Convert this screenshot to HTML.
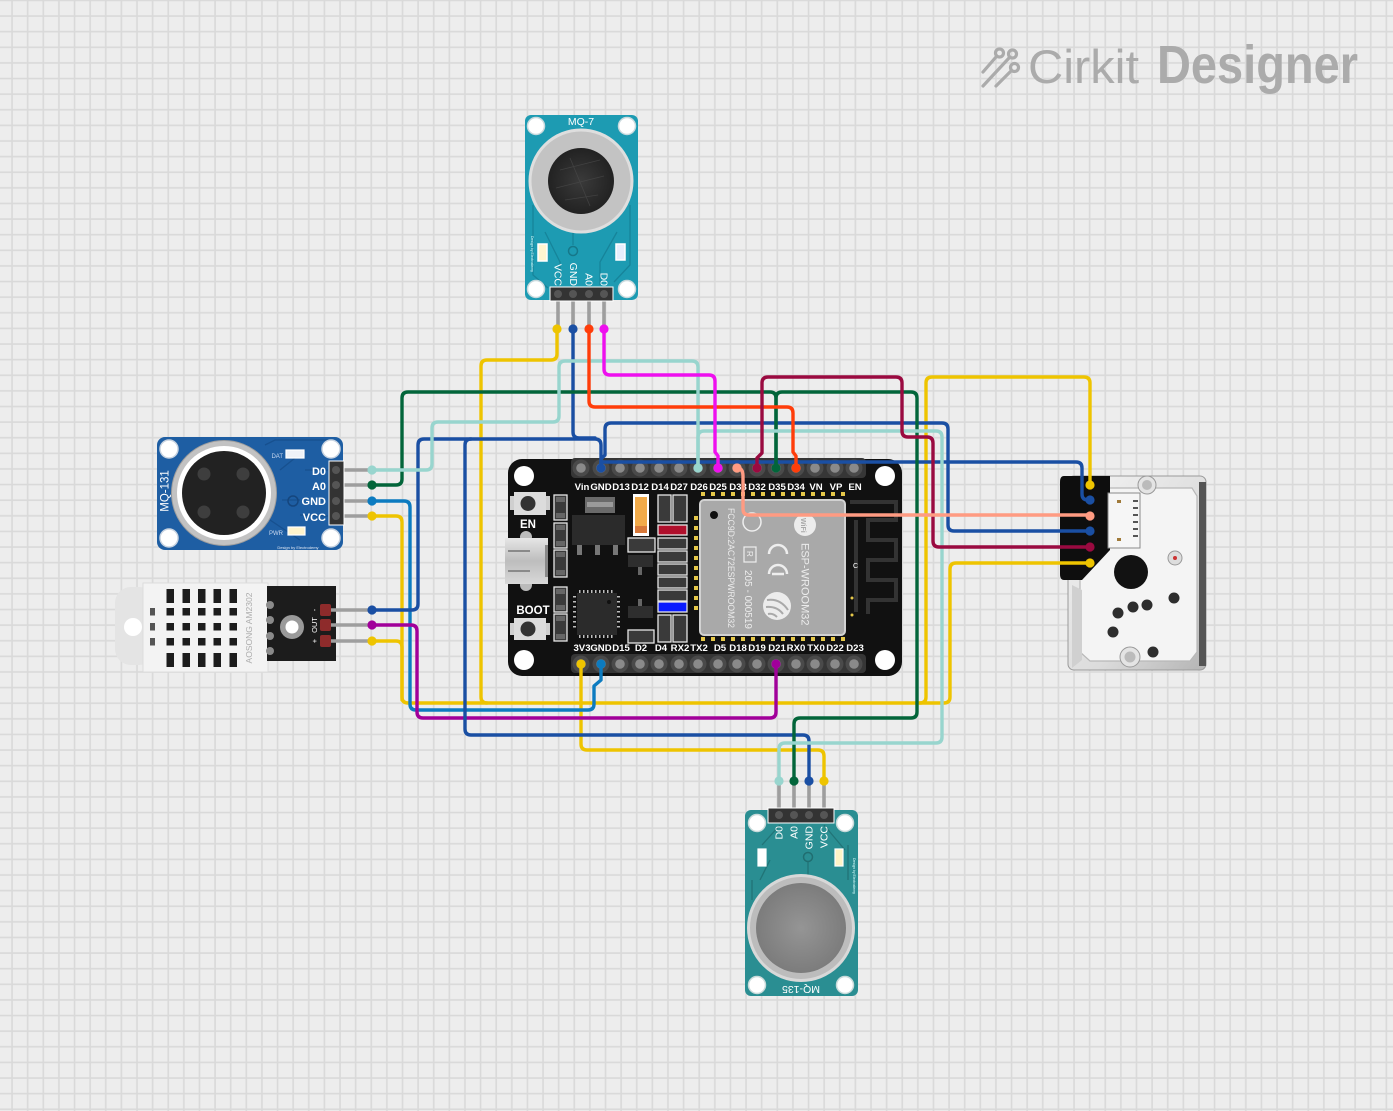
<!DOCTYPE html>
<html><head><meta charset="utf-8"><style>
html,body{margin:0;padding:0;background:#ededed;overflow:hidden;}
svg{display:block;}
text{font-family:"Liberation Sans",sans-serif;}
</style></head><body>
<svg width="1393" height="1111" viewBox="0 0 1393 1111" xmlns="http://www.w3.org/2000/svg">
<defs>
<pattern id="grid" x="4.19" y="8.19" width="15.617" height="15.617" patternUnits="userSpaceOnUse">
<rect x="7.06" y="0" width="1.6" height="15.617" fill="#d9d9d9"/>
<rect x="0" y="7.06" width="15.617" height="1.6" fill="#d9d9d9"/>
</pattern>
<linearGradient id="metal" x1="0" y1="0" x2="1" y2="1">
<stop offset="0" stop-color="#f4f4f4"/><stop offset="0.6" stop-color="#dcdcdc"/><stop offset="1" stop-color="#b4b4b4"/></linearGradient>
<linearGradient id="usb" x1="0" y1="0" x2="0" y2="1">
<stop offset="0" stop-color="#e6e6e6"/><stop offset="0.5" stop-color="#bdbdbd"/><stop offset="1" stop-color="#d8d8d8"/></linearGradient>
<radialGradient id="mq7core" cx="0.5" cy="0.5" r="0.5">
<stop offset="0" stop-color="#3a3a3a"/><stop offset="1" stop-color="#222"/></radialGradient>
<radialGradient id="mesh" cx="0.5" cy="0.5" r="0.5">
<stop offset="0" stop-color="#959595"/><stop offset="1" stop-color="#7c7c7c"/></radialGradient>
</defs>
<rect width="1393" height="1111" fill="#ededed"/>
<rect width="1393" height="1111" fill="url(#grid)"/>

<!-- Logo -->
<g fill="none" stroke="#ababab" stroke-width="3.2" stroke-linecap="round">
<line x1="983" y1="72" x2="996" y2="57"/>
<circle cx="999.5" cy="53" r="4"/>
<line x1="983" y1="86" x2="1009" y2="58"/>
<circle cx="1012.5" cy="54" r="4"/>
<line x1="996" y1="86" x2="1011" y2="71"/>
<circle cx="1014.5" cy="67.5" r="4"/>
</g>
<text x="1028" y="83" font-size="47" fill="#ababab" textLength="111" lengthAdjust="spacingAndGlyphs">Cirkit</text>
<text x="1157" y="83" font-size="54" font-weight="bold" fill="#ababab" textLength="201" lengthAdjust="spacingAndGlyphs">Designer</text>

<!-- MQ-7 -->
<g>
<rect x="525" y="115" width="113" height="185" rx="6" fill="#1d9bb2"/>
<g stroke="#16849a" stroke-width="1.3" fill="none">
<path d="M533,205 V275 L548,288"/>
<path d="M630,205 V265 L614,282"/>
<path d="M573,228 V245"/>
<path d="M545,232 L560,262 V285"/>
<path d="M617,232 L600,262 V285"/>
</g>
<g fill="#fff" stroke="#c9d9dd" stroke-width="1.5">
<circle cx="536" cy="126" r="8.5"/><circle cx="627" cy="126" r="8.5"/>
<circle cx="536" cy="289" r="8.5"/><circle cx="627" cy="289" r="8.5"/>
</g>
<circle cx="581" cy="181" r="51" fill="#c3c3c3" stroke="#dedede" stroke-width="3"/>
<circle cx="581" cy="181" r="33" fill="url(#mq7core)"/>
<g stroke="#4a4a4a" stroke-width="0.8" opacity="0.7">
<line x1="560" y1="170" x2="600" y2="160"/><line x1="556" y1="188" x2="604" y2="176"/>
<line x1="565" y1="200" x2="598" y2="195"/><line x1="570" y1="158" x2="590" y2="206"/>
</g>
<text x="581" y="125" font-family="Liberation Mono,monospace" font-size="10.5" fill="#fff" text-anchor="middle">MQ-7</text>
<circle cx="573" cy="251" r="4.5" fill="none" stroke="#16788a" stroke-width="1.5"/>
<rect x="538" y="244" width="9" height="17" fill="#fff6d0" stroke="#fff" stroke-width="1.5"/>
<rect x="616" y="244" width="9" height="16" fill="#e6eefc" stroke="#fff" stroke-width="1.5"/>
<text transform="translate(531,236) rotate(90)" font-size="3.5" fill="#dff">Design by Electrodemy</text>
<g font-family="Liberation Mono,monospace" font-size="10.5" fill="#fff" text-anchor="end">
<text transform="translate(554.5,286) rotate(90)">VCC</text>
<text transform="translate(570,286) rotate(90)">GND</text>
<text transform="translate(585.5,286) rotate(90)">A0</text>
<text transform="translate(600.5,286) rotate(90)">D0</text>
</g>
<g stroke="#9e9e9e" stroke-width="3.6">
<line x1="558" y1="292" x2="558" y2="329"/><line x1="573" y1="292" x2="573" y2="329"/>
<line x1="589" y1="292" x2="589" y2="329"/><line x1="604" y1="292" x2="604" y2="329"/>
</g>
<rect x="550" y="287" width="63" height="14" fill="#333" stroke="#fff" stroke-width="1"/>
<g fill="#555"><circle cx="558" cy="294" r="4"/><circle cx="573" cy="294" r="4"/><circle cx="589" cy="294" r="4"/><circle cx="604" cy="294" r="4"/></g>
</g>

<!-- MQ-131 -->
<g>
<rect x="157" y="437" width="186" height="113" rx="8" fill="#1e5ea3"/>
<g stroke="#17508f" stroke-width="1.3" fill="none">
<path d="M265,445 L275,440 H330"/><path d="M280,470 L305,450"/><path d="M282,500 H300"/>
<path d="M270,520 L300,540"/><path d="M305,470 H328"/><path d="M300,515 L328,516"/>
</g>
<g fill="#fff" stroke="#c8d3e0" stroke-width="1.5">
<circle cx="169" cy="449" r="9"/><circle cx="331" cy="449" r="9"/>
<circle cx="169" cy="538" r="9"/><circle cx="331" cy="538" r="9"/>
</g>
<circle cx="224" cy="493" r="52.5" fill="#c2c2c2" stroke="#9d9d9d" stroke-width="1"/>
<circle cx="224" cy="493" r="47" fill="#fff"/>
<circle cx="224" cy="493" r="42" fill="#222"/>
<g fill="#3e3e3e"><circle cx="204" cy="474" r="6.5"/><circle cx="243" cy="474" r="6.5"/><circle cx="204" cy="512" r="6.5"/><circle cx="243" cy="512" r="6.5"/></g>
<circle cx="293" cy="501" r="5" fill="none" stroke="#15467e" stroke-width="1.5"/>
<text transform="translate(168.5,491) rotate(-90)" font-family="Liberation Mono,monospace" font-size="11.5" fill="#fff" text-anchor="middle">MQ-131</text>
<text x="283" y="458" font-size="6" fill="#c8d8f0" text-anchor="end">DAT</text>
<rect x="286" y="450" width="18" height="8" fill="#eef2f8" stroke="#fff" stroke-width="1.2"/>
<text x="283" y="535" font-size="6" fill="#c8d8f0" text-anchor="end">PWR</text>
<rect x="288" y="527" width="17" height="8" fill="#fff4cc" stroke="#fff" stroke-width="1.2"/>
<text x="298" y="549" font-size="4" fill="#e0e8f5" text-anchor="middle">Design by Electrodemy</text>
<g font-size="11" font-weight="bold" fill="#fff" text-anchor="end">
<text x="326" y="475">D0</text><text x="326" y="490">A0</text>
<text x="326" y="505">GND</text><text x="326" y="521">VCC</text>
</g>
<g stroke="#9e9e9e" stroke-width="3.6">
<line x1="336" y1="470" x2="372" y2="470"/><line x1="336" y1="485" x2="372" y2="485"/>
<line x1="336" y1="501" x2="372" y2="501"/><line x1="336" y1="516" x2="372" y2="516"/>
</g>
<rect x="329" y="461" width="15" height="64" fill="#333" stroke="#fff" stroke-width="1"/>
<g fill="#555"><circle cx="336" cy="470" r="4"/><circle cx="336" cy="485" r="4"/><circle cx="336" cy="501" r="4"/><circle cx="336" cy="516" r="4"/></g>
</g>

<!-- DHT22 -->
<g>
<rect x="115" y="587" width="40" height="78" rx="16" fill="#e4e4e4"/>
<rect x="143" y="583" width="125" height="89" fill="#f3f3f3" stroke="#dcdcdc" stroke-width="1"/>
<circle cx="133" cy="627" r="9" fill="#fff"/>
<g fill="#1c1c1c">
<rect x="166.5" y="589" width="7.5" height="14"/><rect x="182.5" y="589" width="7.5" height="14"/><rect x="198" y="589" width="7.5" height="14"/><rect x="213.5" y="589" width="7.5" height="14"/><rect x="229.5" y="589" width="7.5" height="14"/>
<rect x="166.5" y="608" width="7.5" height="7.5"/><rect x="182.5" y="608" width="7.5" height="7.5"/><rect x="198" y="608" width="7.5" height="7.5"/><rect x="213.5" y="608" width="7.5" height="7.5"/><rect x="229.5" y="608" width="7.5" height="7.5"/>
<rect x="166.5" y="623" width="7.5" height="7.5"/><rect x="182.5" y="623" width="7.5" height="7.5"/><rect x="198" y="623" width="7.5" height="7.5"/><rect x="213.5" y="623" width="7.5" height="7.5"/><rect x="229.5" y="623" width="7.5" height="7.5"/>
<rect x="166.5" y="638" width="7.5" height="7.5"/><rect x="182.5" y="638" width="7.5" height="7.5"/><rect x="198" y="638" width="7.5" height="7.5"/><rect x="213.5" y="638" width="7.5" height="7.5"/><rect x="229.5" y="638" width="7.5" height="7.5"/>
<rect x="166.5" y="653" width="7.5" height="14"/><rect x="182.5" y="653" width="7.5" height="14"/><rect x="198" y="653" width="7.5" height="14"/><rect x="213.5" y="653" width="7.5" height="14"/><rect x="229.5" y="653" width="7.5" height="14"/>
</g>
<g fill="#555"><rect x="150" y="608" width="5" height="7.5"/><rect x="150" y="623" width="5" height="7.5"/><rect x="150" y="638" width="5" height="7.5"/></g>
<text transform="translate(252,628) rotate(-90)" font-size="8.5" fill="#adadad" text-anchor="middle">AOSONG AM2302</text>
<rect x="267" y="586" width="69" height="75" fill="#1c1c1c"/>
<g fill="#8a8a8a"><circle cx="270" cy="605" r="4"/><circle cx="270" cy="620" r="4"/><circle cx="270" cy="636" r="4"/><circle cx="270" cy="651" r="4"/></g>
<circle cx="292" cy="627" r="12" fill="#9a9a9a"/>
<circle cx="292" cy="627" r="6.5" fill="#fff"/>
<g stroke="#9e9e9e" stroke-width="3.6">
<line x1="326" y1="610" x2="372" y2="610"/><line x1="326" y1="625" x2="372" y2="625"/><line x1="326" y1="641" x2="372" y2="641"/>
</g>
<g fill="#8e2b2b"><rect x="320" y="604" width="11" height="12" rx="2"/><rect x="320" y="619" width="11" height="12" rx="2"/><rect x="320" y="635" width="11" height="12" rx="2"/></g>
<g font-size="7.5" fill="#fff" text-anchor="middle">
<text transform="translate(317,610) rotate(-90)">-</text>
<text transform="translate(317,625) rotate(-90)">OUT</text>
<text transform="translate(317,641) rotate(-90)">+</text>
</g>
</g>

<!-- ESP32 board -->
<g>
<rect x="508" y="459" width="394" height="217" rx="14" fill="#111"/>
<g fill="#fff"><circle cx="524" cy="476" r="10"/><circle cx="885" cy="476" r="10"/><circle cx="524" cy="660" r="10"/><circle cx="885" cy="660" r="10"/></g>
<!-- headers -->
<rect x="571" y="458" width="295" height="20" rx="4" fill="#363636"/>
<rect x="571" y="654" width="295" height="19" rx="4" fill="#363636"/>
<g fill="#4a4a4a">
<circle cx="581" cy="468" r="8.5"/><circle cx="601" cy="468" r="8.5"/><circle cx="620" cy="468" r="8.5"/><circle cx="640" cy="468" r="8.5"/><circle cx="659" cy="468" r="8.5"/><circle cx="679" cy="468" r="8.5"/><circle cx="698" cy="468" r="8.5"/><circle cx="718" cy="468" r="8.5"/><circle cx="737" cy="468" r="8.5"/><circle cx="757" cy="468" r="8.5"/><circle cx="776" cy="468" r="8.5"/><circle cx="796" cy="468" r="8.5"/><circle cx="815" cy="468" r="8.5"/><circle cx="835" cy="468" r="8.5"/><circle cx="854" cy="468" r="8.5"/>
<circle cx="581" cy="664" r="8.5"/><circle cx="601" cy="664" r="8.5"/><circle cx="620" cy="664" r="8.5"/><circle cx="640" cy="664" r="8.5"/><circle cx="659" cy="664" r="8.5"/><circle cx="679" cy="664" r="8.5"/><circle cx="698" cy="664" r="8.5"/><circle cx="718" cy="664" r="8.5"/><circle cx="737" cy="664" r="8.5"/><circle cx="757" cy="664" r="8.5"/><circle cx="776" cy="664" r="8.5"/><circle cx="796" cy="664" r="8.5"/><circle cx="815" cy="664" r="8.5"/><circle cx="835" cy="664" r="8.5"/><circle cx="854" cy="664" r="8.5"/>
</g>
<g fill="#8a8a8a">
<circle cx="581" cy="468" r="4.8"/><circle cx="601" cy="468" r="4.8"/><circle cx="620" cy="468" r="4.8"/><circle cx="640" cy="468" r="4.8"/><circle cx="659" cy="468" r="4.8"/><circle cx="679" cy="468" r="4.8"/><circle cx="698" cy="468" r="4.8"/><circle cx="718" cy="468" r="4.8"/><circle cx="737" cy="468" r="4.8"/><circle cx="757" cy="468" r="4.8"/><circle cx="776" cy="468" r="4.8"/><circle cx="796" cy="468" r="4.8"/><circle cx="815" cy="468" r="4.8"/><circle cx="835" cy="468" r="4.8"/><circle cx="854" cy="468" r="4.8"/>
<circle cx="581" cy="664" r="4.8"/><circle cx="601" cy="664" r="4.8"/><circle cx="620" cy="664" r="4.8"/><circle cx="640" cy="664" r="4.8"/><circle cx="659" cy="664" r="4.8"/><circle cx="679" cy="664" r="4.8"/><circle cx="698" cy="664" r="4.8"/><circle cx="718" cy="664" r="4.8"/><circle cx="737" cy="664" r="4.8"/><circle cx="757" cy="664" r="4.8"/><circle cx="776" cy="664" r="4.8"/><circle cx="796" cy="664" r="4.8"/><circle cx="815" cy="664" r="4.8"/><circle cx="835" cy="664" r="4.8"/><circle cx="854" cy="664" r="4.8"/>
</g>
<g font-size="9.6" font-weight="bold" fill="#fff" text-anchor="middle">
<text x="582" y="490">Vin</text><text x="601" y="490">GND</text><text x="621" y="490">D13</text><text x="640" y="490">D12</text><text x="660" y="490">D14</text><text x="679" y="490">D27</text><text x="699" y="490">D26</text><text x="718" y="490">D25</text><text x="738" y="490">D33</text><text x="757" y="490">D32</text><text x="777" y="490">D35</text><text x="796" y="490">D34</text><text x="816" y="490">VN</text><text x="836" y="490">VP</text><text x="855" y="490">EN</text>
<text x="582" y="651">3V3</text><text x="601" y="651">GND</text><text x="621" y="651">D15</text><text x="641" y="651">D2</text><text x="661" y="651">D4</text><text x="680" y="651">RX2</text><text x="699" y="651">TX2</text><text x="720" y="651">D5</text><text x="738" y="651">D18</text><text x="757" y="651">D19</text><text x="777" y="651">D21</text><text x="796" y="651">RX0</text><text x="816" y="651">TX0</text><text x="835" y="651">D22</text><text x="855" y="651">D23</text>
</g>
<!-- EN button -->
<rect x="510" y="496" width="40" height="14" fill="#cfcfcf"/>
<rect x="514" y="492" width="32" height="23" fill="#dcdcdc"/>
<circle cx="528" cy="503.5" r="7.5" fill="#333"/>
<text x="528" y="528" font-size="11.5" font-weight="bold" fill="#fff" text-anchor="middle">EN</text>
<!-- USB -->
<circle cx="526" cy="537" r="6" fill="#bbb"/><circle cx="526" cy="585" r="6" fill="#bbb"/>
<rect x="505" y="538" width="43" height="46" fill="url(#usb)"/>
<line x1="508" y1="551" x2="530" y2="551" stroke="#8a8a8a" stroke-width="2"/>
<line x1="508" y1="571" x2="530" y2="571" stroke="#8a8a8a" stroke-width="2"/>
<rect x="545" y="545" width="3" height="32" fill="#888"/>
<!-- BOOT -->
<text x="533" y="614" font-size="11.5" font-weight="bold" fill="#fff" text-anchor="middle">BOOT</text>
<rect x="510" y="623" width="40" height="12" fill="#cfcfcf"/>
<rect x="514" y="618" width="32" height="22" fill="#dcdcdc"/>
<circle cx="528" cy="629" r="7.5" fill="#333"/>
<!-- SMD column 1 -->
<g fill="#3a3a3a" stroke="#e6e6e6" stroke-width="1.3">
<rect x="554" y="495" width="13" height="25"/><rect x="554" y="523" width="13" height="25"/><rect x="554" y="550" width="13" height="27"/>
<rect x="554" y="587" width="13" height="25"/><rect x="554" y="614" width="13" height="27"/>
</g>
<g fill="#666"><rect x="556" y="497" width="9" height="5"/><rect x="556" y="513" width="9" height="5"/><rect x="556" y="525" width="9" height="5"/><rect x="556" y="541" width="9" height="5"/><rect x="556" y="552" width="9" height="5"/><rect x="556" y="570" width="9" height="5"/><rect x="556" y="589" width="9" height="5"/><rect x="556" y="605" width="9" height="5"/><rect x="556" y="616" width="9" height="5"/><rect x="556" y="634" width="9" height="5"/></g>
<!-- regulator -->
<rect x="585" y="497" width="30" height="16" fill="#6a6a6a"/>
<rect x="587" y="502" width="26" height="5" fill="#9a9a9a"/>
<rect x="572" y="515" width="53" height="30" fill="#2b2b2b"/>
<g fill="#777"><rect x="577" y="545" width="5" height="10"/><rect x="595" y="545" width="5" height="10"/><rect x="613" y="545" width="5" height="10"/></g>
<!-- orange cap -->
<rect x="633" y="494" width="16" height="42" fill="#fff"/>
<rect x="635" y="497" width="12" height="29" fill="#f2ab4a"/>
<rect x="635" y="526" width="12" height="7" fill="#d8793a"/>
<g fill="#3a3a3a" stroke="#e6e6e6" stroke-width="1.3">
<rect x="628" y="538" width="27" height="14"/><rect x="628" y="630" width="26" height="13"/>
</g>
<rect x="628" y="555" width="25" height="12" fill="#2e2e2e"/><rect x="638" y="567" width="4" height="8" fill="#666"/>
<rect x="628" y="606" width="25" height="12" fill="#2e2e2e"/><rect x="638" y="599" width="4" height="7" fill="#666"/>
<!-- CH340 chip -->
<g fill="#bdbdbd">
<rect x="579" y="590" width="1.5" height="3"/><rect x="583" y="590" width="1.5" height="3"/><rect x="587" y="590" width="1.5" height="3"/><rect x="591" y="590" width="1.5" height="3"/><rect x="595" y="590" width="1.5" height="3"/><rect x="599" y="590" width="1.5" height="3"/><rect x="603" y="590" width="1.5" height="3"/><rect x="607" y="590" width="1.5" height="3"/><rect x="611" y="590" width="1.5" height="3"/>
<rect x="579" y="635" width="1.5" height="3"/><rect x="583" y="635" width="1.5" height="3"/><rect x="587" y="635" width="1.5" height="3"/><rect x="591" y="635" width="1.5" height="3"/><rect x="595" y="635" width="1.5" height="3"/><rect x="599" y="635" width="1.5" height="3"/><rect x="603" y="635" width="1.5" height="3"/><rect x="607" y="635" width="1.5" height="3"/><rect x="611" y="635" width="1.5" height="3"/>
<rect x="573" y="596" width="3" height="1.5"/><rect x="573" y="601" width="3" height="1.5"/><rect x="573" y="606" width="3" height="1.5"/><rect x="573" y="611" width="3" height="1.5"/><rect x="573" y="616" width="3" height="1.5"/><rect x="573" y="621" width="3" height="1.5"/><rect x="573" y="626" width="3" height="1.5"/>
<rect x="617" y="596" width="3" height="1.5"/><rect x="617" y="601" width="3" height="1.5"/><rect x="617" y="606" width="3" height="1.5"/><rect x="617" y="611" width="3" height="1.5"/><rect x="617" y="616" width="3" height="1.5"/><rect x="617" y="621" width="3" height="1.5"/><rect x="617" y="626" width="3" height="1.5"/>
</g>
<rect x="577" y="593" width="40" height="42" fill="#2b2b2b"/>
<circle cx="609" cy="602" r="2" fill="#111"/>
<!-- resistor column -->
<g fill="#3a3a3a" stroke="#e6e6e6" stroke-width="1.3">
<rect x="658" y="495" width="13" height="27"/><rect x="673" y="495" width="14" height="27"/>
<rect x="658" y="538" width="29" height="11"/><rect x="658" y="551" width="29" height="11"/><rect x="658" y="564" width="29" height="11"/><rect x="658" y="577" width="29" height="11"/><rect x="658" y="590" width="29" height="11"/>
<rect x="658" y="615" width="13" height="27"/><rect x="673" y="615" width="14" height="27"/>
</g>
<rect x="658" y="525" width="29" height="10" fill="#b0102c" stroke="#e6e6e6" stroke-width="1.3"/>
<rect x="658" y="602" width="29" height="10" fill="#0a1cff" stroke="#e6e6e6" stroke-width="1.3"/>
<!-- gold pads -->
<g fill="#e6c84a">
<rect x="701" y="492" width="4" height="4"/><rect x="711" y="492" width="4" height="4"/><rect x="721" y="492" width="4" height="4"/><rect x="731" y="492" width="4" height="4"/><rect x="741" y="492" width="4" height="4"/><rect x="751" y="492" width="4" height="4"/><rect x="761" y="492" width="4" height="4"/><rect x="771" y="492" width="4" height="4"/><rect x="781" y="492" width="4" height="4"/><rect x="791" y="492" width="4" height="4"/><rect x="801" y="492" width="4" height="4"/><rect x="811" y="492" width="4" height="4"/><rect x="821" y="492" width="4" height="4"/><rect x="831" y="492" width="4" height="4"/><rect x="841" y="492" width="4" height="4"/>
<rect x="701" y="637" width="4" height="4"/><rect x="711" y="637" width="4" height="4"/><rect x="721" y="637" width="4" height="4"/><rect x="731" y="637" width="4" height="4"/><rect x="741" y="637" width="4" height="4"/><rect x="751" y="637" width="4" height="4"/><rect x="761" y="637" width="4" height="4"/><rect x="771" y="637" width="4" height="4"/><rect x="781" y="637" width="4" height="4"/><rect x="791" y="637" width="4" height="4"/><rect x="801" y="637" width="4" height="4"/><rect x="811" y="637" width="4" height="4"/><rect x="821" y="637" width="4" height="4"/><rect x="831" y="637" width="4" height="4"/><rect x="841" y="637" width="4" height="4"/>
<rect x="694" y="516" width="4" height="4"/><rect x="694" y="526" width="4" height="4"/><rect x="694" y="536" width="4" height="4"/><rect x="694" y="546" width="4" height="4"/><rect x="694" y="556" width="4" height="4"/><rect x="694" y="566" width="4" height="4"/><rect x="694" y="576" width="4" height="4"/><rect x="694" y="586" width="4" height="4"/><rect x="694" y="596" width="4" height="4"/><rect x="694" y="606" width="4" height="4"/>
</g>
<!-- antenna -->
<g fill="none" stroke="#333" stroke-width="4">
<path d="M850,502 H896 V520 H868 V540 H896 V560 H868 V580 H896 V600 H868 V614"/>
<path d="M856,520 V612"/>
</g>
<text x="853" y="568" font-size="7" fill="#fff">C</text>
<circle cx="852" cy="598" r="1.5" fill="#e6c84a"/><circle cx="852" cy="615" r="1.5" fill="#e6c84a"/>
<!-- module shield -->
<rect x="700" y="500" width="145" height="135" rx="4" fill="#a9a9a9" stroke="#d2d2d2" stroke-width="2"/>
<circle cx="714" cy="515" r="4" fill="#111"/>
<g fill="#ececec">
<text transform="translate(801.5,543) rotate(90)" font-size="11">ESP-WROOM32</text>
<text transform="translate(728,508) rotate(90)" font-size="9.5" textLength="120" lengthAdjust="spacingAndGlyphs">FCC9D:2AC72ESPWROOM32</text>
<text transform="translate(745,570) rotate(90)" font-size="10">205 - 000519</text>
</g>
<rect x="744" y="547" width="12" height="15" fill="none" stroke="#eee" stroke-width="1.2"/>
<text transform="translate(747,551) rotate(90)" font-size="8" fill="#eee">R</text>
<circle cx="752" cy="522" r="9" fill="none" stroke="#eee" stroke-width="1.5"/>
<circle cx="805" cy="525" r="11" fill="#ececec"/>
<text transform="translate(801,518) rotate(90)" font-size="7" font-weight="bold" fill="#a9a9a9">WiFi</text>
<path d="M787,554 A9,9 0 0 0 769,554 M787,574 A9,9 0 0 0 769,574 M772,574 H784" fill="none" stroke="#eee" stroke-width="2.5"/>
<circle cx="777" cy="606" r="14" fill="#ececec"/>
<path d="M767,600 Q780,598 788,610 M766,607 Q777,606 783,614 M768,614 Q773,613 777,617" fill="none" stroke="#a9a9a9" stroke-width="2"/>
</g>

<!-- MQ-135 -->
<g>
<rect x="745" y="810" width="113" height="186" rx="6" fill="#2a8e92"/>
<g stroke="#217477" stroke-width="1.3" fill="none">
<path d="M752,880 V900"/><path d="M770,860 L760,880"/><path d="M808,862 V875"/><path d="M848,845 V880"/>
<path d="M780,825 L762,845"/><path d="M824,825 L845,850"/>
</g>
<g fill="#fff" stroke="#c9dada" stroke-width="1.5">
<circle cx="757" cy="823" r="8.5"/><circle cx="845" cy="823" r="8.5"/>
<circle cx="757" cy="985" r="8.5"/><circle cx="845" cy="985" r="8.5"/>
</g>
<circle cx="801" cy="928" r="52.5" fill="#bcbcbc" stroke="#d8d8d8" stroke-width="3"/>
<circle cx="801" cy="928" r="45" fill="url(#mesh)"/>
<circle cx="808" cy="857" r="4.5" fill="none" stroke="#206e71" stroke-width="1.5"/>
<rect x="758" y="849" width="8" height="17" fill="#fff" stroke="#fff" stroke-width="1.2"/>
<rect x="835" y="849" width="8" height="17" fill="#fff4c6" stroke="#fff" stroke-width="1.2"/>
<text transform="translate(801,986) rotate(180)" font-family="Liberation Mono,monospace" font-size="10.5" fill="#fff" text-anchor="middle">MQ-135</text>
<text transform="translate(853,876) rotate(90)" font-size="3.5" fill="#dff" text-anchor="middle">Design by Electrodemy</text>
<g font-family="Liberation Mono,monospace" font-size="10.5" fill="#fff" text-anchor="end">
<text transform="translate(782.5,826) rotate(-90)">D0</text>
<text transform="translate(797.5,826) rotate(-90)">A0</text>
<text transform="translate(812.5,826) rotate(-90)">GND</text>
<text transform="translate(827.5,826) rotate(-90)">VCC</text>
</g>
<g stroke="#9e9e9e" stroke-width="3.6">
<line x1="779" y1="781" x2="779" y2="815"/><line x1="794" y1="781" x2="794" y2="815"/>
<line x1="809" y1="781" x2="809" y2="815"/><line x1="824" y1="781" x2="824" y2="815"/>
</g>
<rect x="768" y="808" width="66" height="15" fill="#333" stroke="#fff" stroke-width="1"/>
<g fill="#555"><circle cx="779" cy="815" r="4"/><circle cx="794" cy="815" r="4"/><circle cx="809" cy="815" r="4"/><circle cx="824" cy="815" r="4"/></g>
</g>

<!-- Dust sensor -->
<g>
<rect x="1068" y="476" width="138" height="194" rx="6" fill="url(#metal)" stroke="#9a9a9a" stroke-width="1"/>
<rect x="1199" y="482" width="7" height="184" fill="#555"/>
<path d="M1088,488 H1192 L1197,496 V652 L1190,661 H1090 L1080,652 V496 Z" fill="#f4f4f4" stroke="#b8b8b8" stroke-width="1.2"/>
<path d="M1072,585 L1082,590 V660 L1072,668 Z" fill="#d0d0d0"/>
<path d="M1064,476 H1110 V550 L1082,580 H1064 Q1060,580 1060,574 V482 Q1060,476 1064,476 Z" fill="#0e0e0e"/>
<rect x="1108" y="493" width="32" height="55" fill="#f6f6f6" stroke="#8a8a8a" stroke-width="1"/>
<g fill="#555"><rect x="1133" y="500" width="5" height="2"/><rect x="1133" y="507" width="5" height="2"/><rect x="1133" y="514" width="5" height="2"/><rect x="1133" y="521" width="5" height="2"/><rect x="1133" y="528" width="5" height="2"/><rect x="1133" y="535" width="5" height="2"/></g>
<rect x="1117" y="500" width="4" height="3" fill="#a07a3a"/><rect x="1117" y="538" width="4" height="3" fill="#a07a3a"/>
<circle cx="1147" cy="485" r="9" fill="#e4e4e4" stroke="#999" stroke-width="1"/>
<circle cx="1147" cy="485" r="5" fill="#bbb"/>
<circle cx="1130" cy="657" r="10" fill="#e4e4e4" stroke="#999" stroke-width="1"/>
<circle cx="1130" cy="657" r="5.5" fill="#bbb"/>
<circle cx="1131" cy="572" r="17" fill="#121212"/>
<circle cx="1175" cy="558" r="7" fill="#ddd" stroke="#999" stroke-width="1"/>
<circle cx="1175" cy="558" r="2" fill="#c33"/>
<g fill="#2e2e2e"><circle cx="1174" cy="598" r="5.5"/><circle cx="1147" cy="605" r="5.5"/><circle cx="1133" cy="607" r="5.5"/><circle cx="1118" cy="613" r="5.5"/><circle cx="1113" cy="632" r="5.5"/><circle cx="1153" cy="652" r="5.5"/></g>
</g>

<!-- WIRES -->
<g fill="none" stroke-width="3.4" stroke-linecap="round" stroke-linejoin="round">
<!-- yellow -->
<path stroke="#eec400" d="M372,516 H396 Q402,516 402,522 V697 Q402,703 408,703 H920 Q926,703 926,697 V383 Q926,377 932,377 H1084 Q1090,377 1090,383 V485"/>
<path stroke="#eec400" d="M372,641 H396 Q402,641 402,647 V700"/>
<path stroke="#eec400" d="M557,329 V354 Q557,360 551,360 H487 Q481,360 481,366 V697 Q481,703 487,703"/>
<path stroke="#eec400" d="M1090,563 H956 Q950,563 950,569 V697 Q950,703 944,703 H920"/>
<path stroke="#eec400" d="M581,664 V744 Q581,750 587,750 H818 Q824,750 824,756 V781"/>
<!-- light blue -->
<path stroke="#0c7bc0" d="M372,501 H404 Q410,501 410,507 V704 Q410,710 416,710 H588 Q594,710 594,704 V686 L601,680 V664"/>
<!-- purple -->
<path stroke="#a1009a" d="M372,625 H411 Q417,625 417,631 V712 Q417,718 423,718 H770 Q776,718 776,712 V664"/>
<!-- dark blue -->
<path stroke="#1a4fa3" d="M809,781 V741 Q809,735 803,735 H471 Q465,735 465,729 V445 Q465,439 471,439"/>
<path stroke="#1a4fa3" d="M372,610 H412 Q418,610 418,604 V445 Q418,439 424,439 H595 Q601,439 601,445 V468"/>
<path stroke="#1a4fa3" d="M573,329 V432 Q573,438 579,438 H595"/>
<path stroke="#1a4fa3" d="M601,468 V459 L605,455 V429 Q605,423 611,423 H942 Q948,423 948,429 V525 Q948,531 954,531 H1090"/>
<path stroke="#1a4fa3" d="M601,468 V462 H1076 Q1082,462 1082,468 V494 Q1082,500 1088,500 H1090"/>
<!-- green -->
<path stroke="#02653a" d="M372,485 H396 Q402,485 402,479 V398 Q402,392 408,392 H770 Q776,392 776,398 V468"/>
<path stroke="#02653a" d="M776,468 V398 Q776,392 782,392 H911 Q917,392 917,398 V712 Q917,718 911,718 H800 Q794,718 794,724 V781"/>
<!-- teal -->
<path stroke="#98d5ce" d="M372,470 H426 Q432,470 432,464 V428 Q432,422 438,422 H553 Q559,422 559,416 V367 Q559,361 565,361 H692 Q698,361 698,367 V468"/>
<path stroke="#98d5ce" d="M698,468 V437 Q698,431 704,431 H936 Q942,431 942,437 V737 Q942,743 936,743 H785 Q779,743 779,749 V781"/>
<!-- orange -->
<path stroke="#ff3d0a" d="M589,329 V401 Q589,407 595,407 H787 Q793,407 793,413 V452 L796,456 V468"/>
<!-- magenta -->
<path stroke="#ee10ee" d="M604,329 V369 Q604,375 610,375 H709 Q715,375 715,381 V452 L718,456 V468"/>
<!-- crimson -->
<path stroke="#9a0a40" d="M757,468 V458 L762,453 V383 Q762,377 768,377 H896 Q902,377 902,383 V431 Q902,437 908,437 H927 Q933,437 933,443 V541 Q933,547 939,547 H1090"/>
<!-- salmon -->
<path stroke="#ff9b82" d="M737,468 Q743,468 743,476 V509 Q743,515 749,515 H1090"/>
</g>

<!-- pin dots -->
<g>
<circle cx="557" cy="329" r="4.6" fill="#eec400"/><circle cx="573" cy="329" r="4.6" fill="#1a4fa3"/><circle cx="589" cy="329" r="4.6" fill="#ff3d0a"/><circle cx="604" cy="329" r="4.6" fill="#ee10ee"/>
<circle cx="372" cy="470" r="4.6" fill="#98d5ce"/><circle cx="372" cy="485" r="4.6" fill="#02653a"/><circle cx="372" cy="501" r="4.6" fill="#0c7bc0"/><circle cx="372" cy="516" r="4.6" fill="#eec400"/>
<circle cx="372" cy="610" r="4.6" fill="#1a4fa3"/><circle cx="372" cy="625" r="4.6" fill="#a1009a"/><circle cx="372" cy="641" r="4.6" fill="#eec400"/>
<circle cx="601" cy="468" r="4.6" fill="#1a4fa3"/><circle cx="698" cy="468" r="4.6" fill="#98d5ce"/><circle cx="718" cy="468" r="4.6" fill="#ee10ee"/><circle cx="737" cy="468" r="4.6" fill="#ff9b82"/><circle cx="757" cy="468" r="4.6" fill="#9a0a40"/><circle cx="776" cy="468" r="4.6" fill="#02653a"/><circle cx="796" cy="468" r="4.6" fill="#ff3d0a"/>
<circle cx="581" cy="664" r="4.6" fill="#eec400"/><circle cx="601" cy="664" r="4.6" fill="#0c7bc0"/><circle cx="776" cy="664" r="4.6" fill="#a1009a"/>
<circle cx="779" cy="781" r="4.6" fill="#98d5ce"/><circle cx="794" cy="781" r="4.6" fill="#02653a"/><circle cx="809" cy="781" r="4.6" fill="#1a4fa3"/><circle cx="824" cy="781" r="4.6" fill="#eec400"/>
<circle cx="1090" cy="485" r="4.6" fill="#eec400"/><circle cx="1090" cy="500" r="4.6" fill="#1a4fa3"/><circle cx="1090" cy="516" r="4.6" fill="#ff9b82"/><circle cx="1090" cy="531" r="4.6" fill="#1a4fa3"/><circle cx="1090" cy="547" r="4.6" fill="#9a0a40"/><circle cx="1090" cy="563" r="4.6" fill="#eec400"/>
</g>
</svg>
</body></html>
